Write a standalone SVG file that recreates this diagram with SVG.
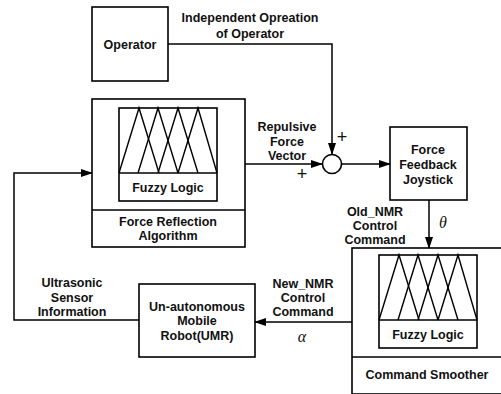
<svg xmlns="http://www.w3.org/2000/svg" width="501" height="394" viewBox="0 0 501 394">
<style>
.box{fill:none;stroke:#000;stroke-width:1.6}
.ln{fill:none;stroke:#000;stroke-width:1.5}
.tri{fill:none;stroke:#000;stroke-width:1.4}
text{font-family:"Liberation Sans",Arial,sans-serif;font-weight:bold;font-size:12.5px;fill:#111;text-anchor:middle}
.sym{font-family:"Liberation Serif","Times New Roman",serif;font-style:italic;font-weight:normal;font-size:16px}
.pl{font-family:"Liberation Sans",Arial,sans-serif;font-weight:normal;font-size:18px}
</style>
<defs>
<marker id="ah" markerWidth="12" markerHeight="8" refX="11" refY="4" orient="auto" markerUnits="userSpaceOnUse">
<path d="M0,0 L12,4 L0,8 Z" fill="#000"/>
</marker>
<g id="fuzzy">
<rect x="0" y="0" width="98" height="93" class="box"/>
<line x1="0" y1="65" x2="98" y2="65" class="ln"/>
<polyline class="tri" points="0,65 20,0 40,65"/>
<polyline class="tri" points="19,65 39,0 59,65"/>
<polyline class="tri" points="39,65 59,0 79,65"/>
<polyline class="tri" points="59,65 79,0 98,65"/>
<text x="49" y="84">Fuzzy Logic</text>
</g>
</defs>
<rect width="501" height="394" fill="#fff"/>

<g id="operator">
<rect x="92" y="7" width="76" height="74" class="box"/>
<text x="130" y="49">Operator</text>
</g>

<g id="force-reflection">
<rect x="92" y="99" width="153" height="148" class="box"/>
<line x1="92" y1="210" x2="245" y2="210" class="ln"/>
<use href="#fuzzy" x="119" y="108"/>
<text x="168" y="226">Force Reflection</text>
<text x="168" y="240">Algorithm</text>
</g>

<g id="summing">
<circle cx="332" cy="164" r="9.5" fill="#fff" stroke="#000" stroke-width="1.6"/>
<text x="342" y="143" class="pl">+</text>
<text x="302" y="180" class="pl">+</text>
</g>

<g id="joystick">
<rect x="390" y="127" width="77" height="73" class="box"/>
<text x="428" y="154">Force</text>
<text x="428" y="169">Feedback</text>
<text x="428" y="184">Joystick</text>
</g>

<g id="command-smoother">
<rect x="352" y="248" width="152" height="146" class="box"/>
<line x1="352" y1="357" x2="504" y2="357" class="ln"/>
<use href="#fuzzy" x="379" y="255"/>
<text x="427" y="379">Command Smoother</text>
</g>

<g id="umr">
<rect x="139" y="284" width="116" height="73" class="box"/>
<text x="197" y="311">Un-autonomous</text>
<text x="197" y="325">Mobile</text>
<text x="197" y="340">Robot(UMR)</text>
</g>

<g id="connectors">
<polyline class="ln" points="168,44 332,44 332,154" marker-end="url(#ah)"/>
<line class="ln" x1="245" y1="164" x2="322" y2="164" marker-end="url(#ah)"/>
<line class="ln" x1="342" y1="164" x2="390" y2="164" marker-end="url(#ah)"/>
<line class="ln" x1="429" y1="200" x2="429" y2="248" marker-end="url(#ah)"/>
<line class="ln" x1="352" y1="322" x2="255" y2="322" marker-end="url(#ah)"/>
<polyline class="ln" points="139,320 14,320 14,173 92,173" marker-end="url(#ah)"/>
</g>

<g id="labels">
<text x="250" y="22">Independent Opreation</text>
<text x="250" y="38">of Operator</text>
<text x="287" y="131">Repulsive</text>
<text x="287" y="146">Force</text>
<text x="287" y="160">Vector</text>
<text x="375" y="216">Old_NMR</text>
<text x="375" y="230">Control</text>
<text x="375" y="244">Command</text>
<text x="443" y="228" class="sym">θ</text>
<text x="303" y="288">New_NMR</text>
<text x="303" y="302">Control</text>
<text x="303" y="316">Command</text>
<text x="302" y="342" class="sym">α</text>
<text x="72" y="287">Ultrasonic</text>
<text x="72" y="302">Sensor</text>
<text x="72" y="316">Information</text>
</g>
</svg>
